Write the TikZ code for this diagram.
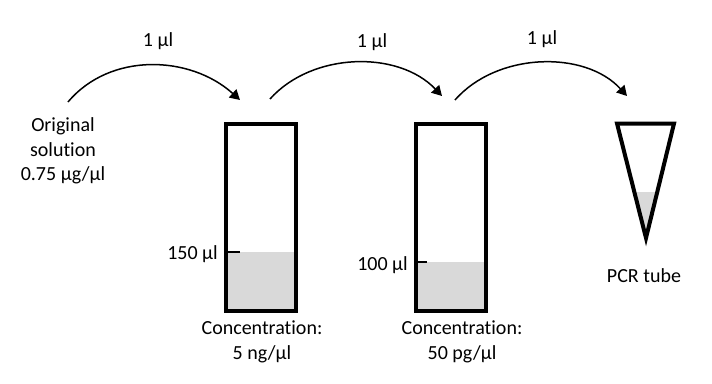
\documentclass[tikz,border=0pt]{standalone}
\usepackage{fontspec}
\setmainfont{Carlito}[Ligatures=NoCommon]
\usetikzlibrary{arrows.meta}
\tikzset{
	pipette/.style={line width=1.5pt,-{Triangle[length=10pt,width=11pt]}},
	tubewall/.style={line width=4pt,line join=miter},
	liquid/.style={fill=black!15},
	lbl/.style={align=center,inner sep=0pt,font=\fontsize{20}{24.5}\selectfont}
}
\begin{document}
\begin{tikzpicture}[x=1pt,y=-1pt]
	\useasboundingbox (0,0) rectangle (712,383);
	% liquid levels
	\fill[liquid] (226,252) rectangle (296,310.5);
	\fill[liquid] (415.5,262) rectangle (486,310.5);
	\fill[liquid] (633.5,192) -- (657.5,192) -- (646,238) -- cycle;
	% the tubes
	\draw[tubewall] (226,124) rectangle (296,310.5);
	\draw[tubewall] (415.5,124) rectangle (486,310.5);
	\draw[tubewall] (617,123.5) -- (674,123.5) -- (646,238) -- cycle;
	% volume marks
	\draw[line width=1.5pt] (226,252) -- (240,252);
	\draw[line width=1.5pt] (415.5,262) -- (427,262);
	\node[lbl,anchor=east] (vol1) at (218,254) {150 µl};
	\node[lbl,anchor=east] (vol2) at (408,265) {100 µl};
	% labels
	\node[lbl] (orig) at (63,151) {Original\\solution\\0.75 µg/µl};
	\node[lbl] (conc1) at (262,342) {Concentration:\\5 ng/µl};
	\node[lbl] (conc2) at (462,342) {Concentration:\\50 pg/µl};
	\node[lbl] (pcr) at (644,276) {PCR tube};
	% transfers
	\coordinate (src) at (68,102);
	\coordinate (in1) at (240,100);
	\coordinate (out1) at (270,99);
	\coordinate (in2) at (442,96);
	\coordinate (out2) at (455,100);
	\coordinate (in3) at (627,96);
	\draw[pipette] (src) .. controls (110,52) and (190,55) .. (in1);
	\draw[pipette] (out1) .. controls (312,52) and (398,50) .. (in2);
	\draw[pipette] (out2) .. controls (497,52) and (585,50) .. (in3);
	\node[lbl] (vol a) at (158,41) {1 µl};
	\node[lbl] (vol b) at (372,42) {1 µl};
	\node[lbl] (vol c) at (542,39) {1 µl};
\end{tikzpicture}
\end{document}
